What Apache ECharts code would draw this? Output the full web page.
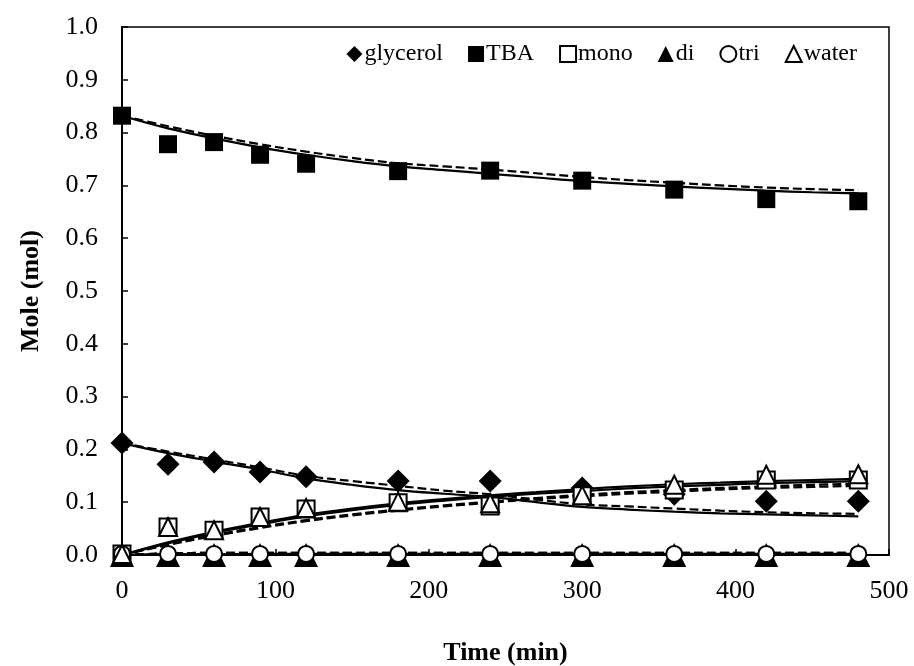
<!DOCTYPE html>
<html>
<head>
<meta charset="utf-8">
<script src="https://cdn.jsdelivr.net/npm/echarts@6/dist/echarts.min.js"></script>
<style>
html,body{margin:0;padding:0;background:#fff;}
#chart{width:914px;height:666px;}
</style>
</head>
<body>
<div id="chart"></div>
<script>
// Experimental sampling times (min)
const times = [0, 30, 60, 90, 120, 180, 240, 300, 360, 420, 480];
// Experimental values (mol)
const glycerol = [0.212, 0.172, 0.176, 0.157, 0.148, 0.140, 0.140, 0.127, 0.115, 0.102, 0.102];
const tba      = [0.832, 0.778, 0.782, 0.758, 0.741, 0.727, 0.728, 0.709, 0.692, 0.674, 0.670];
const mono     = [0.002, 0.053, 0.047, 0.072, 0.087, 0.099, 0.093, 0.112, 0.123, 0.142, 0.142];
const di       = [0.000, 0.000, 0.000, 0.000, 0.000, 0.000, 0.000, 0.000, 0.000, 0.000, 0.000];
const tri      = [0.002, 0.002, 0.002, 0.002, 0.002, 0.002, 0.002, 0.002, 0.002, 0.002, 0.002];
const water    = [0.002, 0.053, 0.047, 0.072, 0.089, 0.101, 0.098, 0.113, 0.133, 0.152, 0.153];

// Model curve times (min)
const modelTimes = [0, 30, 60, 90, 120, 150, 180, 210, 240, 270, 300, 330, 360, 390, 420, 450, 480];
// Model 1 (solid)
const glycerolSolid = [0.212, 0.193, 0.177, 0.162, 0.145, 0.133, 0.123, 0.116, 0.110, 0.100, 0.091, 0.086, 0.082, 0.079, 0.077, 0.075, 0.073];
const tbaSolid      = [0.832, 0.808, 0.789, 0.772, 0.758, 0.746, 0.736, 0.729, 0.722, 0.715, 0.708, 0.703, 0.698, 0.694, 0.690, 0.687, 0.685];
const monoSolid     = [0.000, 0.022, 0.042, 0.058, 0.073, 0.085, 0.095, 0.103, 0.110, 0.116, 0.121, 0.126, 0.130, 0.133, 0.136, 0.138, 0.140];
const waterSolid    = [0.000, 0.024, 0.044, 0.061, 0.076, 0.088, 0.098, 0.106, 0.113, 0.119, 0.125, 0.130, 0.134, 0.137, 0.140, 0.142, 0.144];
const diSolid       = [0.000, 0.001, 0.001, 0.001, 0.001, 0.001, 0.001, 0.001, 0.001, 0.001, 0.001, 0.001, 0.001, 0.001, 0.001, 0.001, 0.001];
const triSolid      = [0.000, 0.001, 0.001, 0.002, 0.002, 0.002, 0.002, 0.002, 0.002, 0.002, 0.002, 0.002, 0.002, 0.002, 0.002, 0.002, 0.002];
// Model 2 (dashed)
const glycerolDash  = [0.212, 0.196, 0.181, 0.166, 0.150, 0.140, 0.131, 0.122, 0.115, 0.105, 0.096, 0.092, 0.088, 0.084, 0.081, 0.079, 0.078];
const tbaDash       = [0.832, 0.812, 0.794, 0.778, 0.764, 0.752, 0.742, 0.736, 0.730, 0.723, 0.716, 0.710, 0.705, 0.700, 0.696, 0.693, 0.691];
const monoDash      = [0.000, 0.019, 0.036, 0.051, 0.064, 0.075, 0.084, 0.092, 0.099, 0.106, 0.111, 0.116, 0.120, 0.124, 0.127, 0.129, 0.131];
const waterDash     = [0.000, 0.020, 0.038, 0.053, 0.066, 0.077, 0.086, 0.094, 0.101, 0.108, 0.114, 0.119, 0.123, 0.127, 0.130, 0.133, 0.135];
const diDash        = [0.000, 0.003, 0.004, 0.004, 0.004, 0.004, 0.004, 0.004, 0.004, 0.004, 0.004, 0.004, 0.004, 0.004, 0.004, 0.004, 0.004];
const triDash       = [0.000, 0.003, 0.004, 0.004, 0.004, 0.004, 0.004, 0.004, 0.004, 0.004, 0.004, 0.004, 0.004, 0.004, 0.004, 0.004, 0.004];

const FONT = '"Liberation Serif", "Times New Roman", serif';

function pairs(xs, ys) { return xs.map((x, i) => [x, ys[i]]); }

function modelLine(name, ys, dashed) {
  return {
    name: name,
    type: 'line',
    data: pairs(modelTimes, ys),
    smooth: 0.4,
    symbol: 'none',
    lineStyle: { color: '#000', width: 2.2, type: dashed ? [9, 4] : 'solid' },
    z: 2,
    silent: true
  };
}

function markers(name, ys, symbol, size, filled) {
  return {
    name: name,
    type: 'scatter',
    data: pairs(times, ys),
    symbol: symbol,
    symbolSize: size,
    itemStyle: filled
      ? { color: '#000', borderColor: '#000', borderWidth: 0, opacity: 1 }
      : { color: '#000', borderColor: '#000', borderWidth: 1.6, opacity: 1 },
    z: 5
  };
}

const chart = echarts.init(document.getElementById('chart'), null, { renderer: 'canvas' });
chart.setOption({
  animation: false,
  backgroundColor: '#fff',
  textStyle: { fontFamily: FONT, color: '#000' },
  grid: { left: 122, right: 25, top: 27, bottom: 111, outerBoundsMode: 'none', containLabel: false, show: true, borderColor: '#000', borderWidth: 1.5, backgroundColor: 'transparent' },
  legend: {
    data: ['glycerol', 'TBA', 'mono', 'di', 'tri', 'water'],
    right: 52,
    top: 37,
    itemWidth: 16,
    itemHeight: 16,
    itemGap: 25,
    textStyle: { fontFamily: FONT, fontSize: 24, color: '#000', padding: [0, 0, 0, -3] }
  },
  xAxis: {
    type: 'value',
    min: 0, max: 500, interval: 100,
    name: 'Time (min)',
    nameLocation: 'middle',
    nameGap: 85,
    nameTextStyle: { fontFamily: FONT, fontSize: 26, fontWeight: 'bold', color: '#000' },
    axisLine: { show: true, onZero: false, lineStyle: { color: '#000', width: 2 } },
    axisTick: { show: true, inside: true, length: 6, lineStyle: { color: '#000', width: 1.5 } },
    axisLabel: { fontFamily: FONT, fontSize: 26, color: '#000', margin: 23 },
    splitLine: { show: false }
  },
  yAxis: {
    type: 'value',
    min: 0, max: 1, interval: 0.1,
    name: 'Mole (mol)',
    nameLocation: 'middle',
    nameGap: 78,
    nameTextStyle: { fontFamily: FONT, fontSize: 26, fontWeight: 'bold', color: '#000' },
    axisLine: { show: true, onZero: false, lineStyle: { color: '#000', width: 2 } },
    axisTick: { show: true, inside: true, length: 6, lineStyle: { color: '#000', width: 1.5 } },
    axisLabel: { fontFamily: FONT, fontSize: 26, color: '#000', margin: 24, formatter: v => v.toFixed(1) },
    splitLine: { show: false }
  },
  series: [
    modelLine('m1-glycerol', glycerolSolid, false),
    modelLine('m1-TBA', tbaSolid, false),
    modelLine('m1-mono', monoSolid, false),
    modelLine('m1-water', waterSolid, false),
    modelLine('m1-di', diSolid, false),
    modelLine('m1-tri', triSolid, false),
    modelLine('m2-glycerol', glycerolDash, true),
    modelLine('m2-TBA', tbaDash, true),
    modelLine('m2-mono', monoDash, true),
    modelLine('m2-water', waterDash, true),
    modelLine('m2-di', diDash, true),
    modelLine('m2-tri', triDash, true),
    markers('glycerol', glycerol, 'diamond', 23, true),
    markers('TBA', tba, 'rect', 18, true),
    markers('mono', mono, 'emptyRect', 17, false),
    markers('di', di, 'triangle', 24, true),
    markers('tri', tri, 'emptyCircle', 16, false),
    markers('water', water, 'emptyTriangle', 18, false)
  ]
});
</script>
</body>
</html>
